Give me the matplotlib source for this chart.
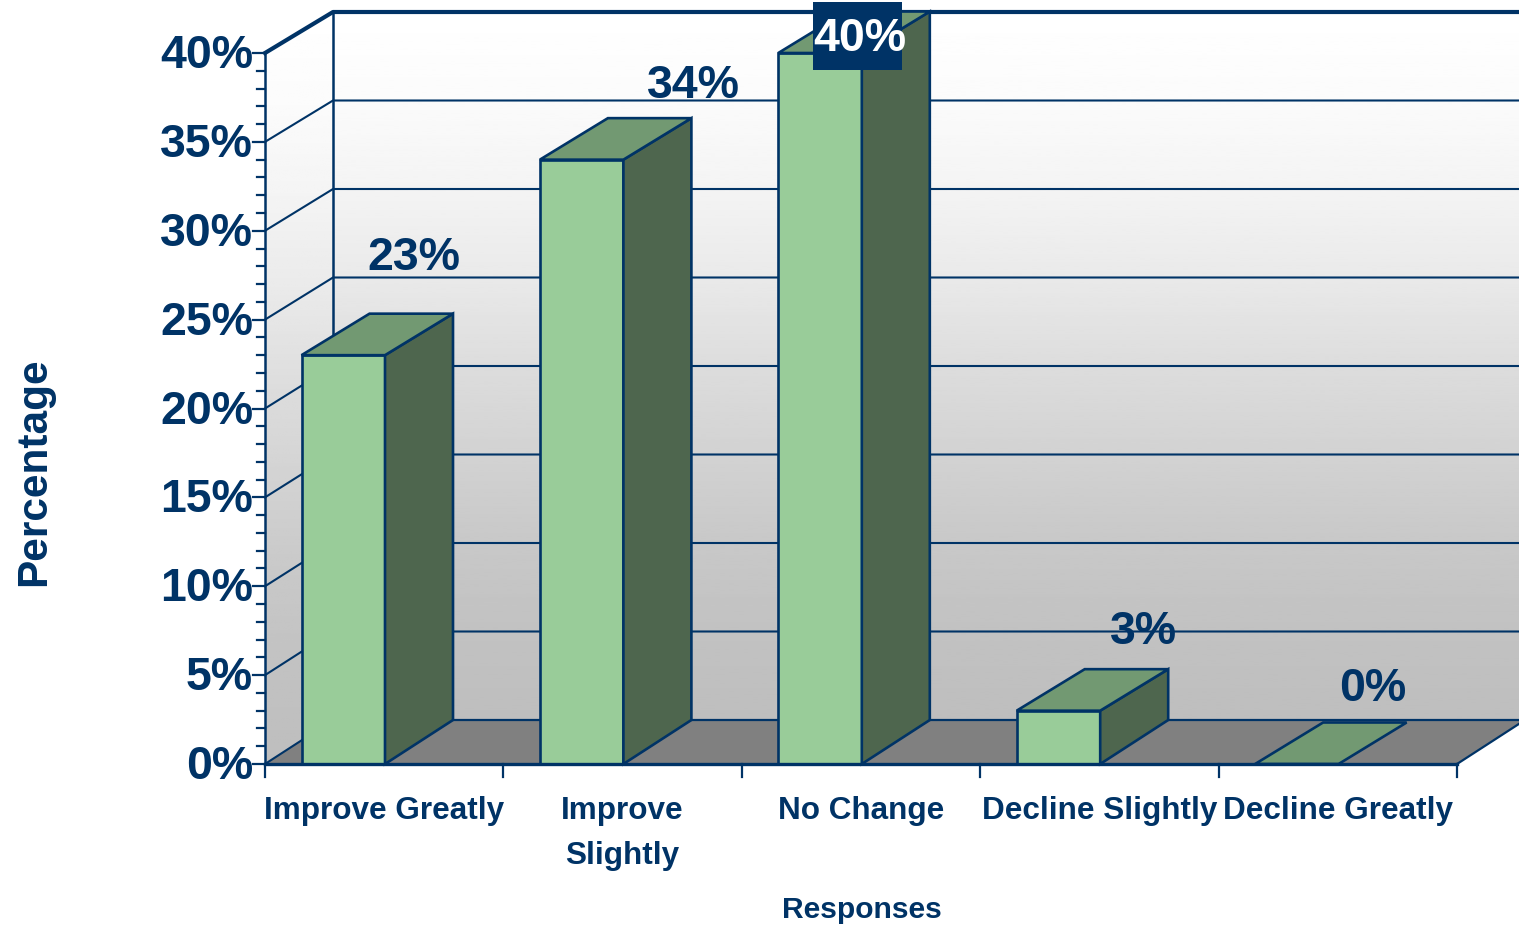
# plot.py
import numpy as np
import matplotlib
matplotlib.use("Agg")
import matplotlib.pyplot as plt
from matplotlib.patches import Polygon, Rectangle

plt.rcParams["font.family"] = ["Liberation Sans", "DejaVu Sans"]

categories = ["Improve Greatly", "Improve\nSlightly", "No Change", "Decline Slightly", "Decline Greatly"]
values = [23, 34, 40, 3, 0]
value_labels = ["23%", "34%", "40%", "3%", "0%"]
y_ticks = [0, 5, 10, 15, 20, 25, 30, 35, 40]

# label offset from the bar's front top centre, in pixels
label_dx = [71, 112, 40, 85, 76]
label_dy = [100, 77, 17, 82, 78]

NAVY = "#003366"
FRONT = "#99CC99"
TOP = "#729972"
SIDE = "#4E664E"
FLOOR = "#808080"

W, H = 1519, 926
# one data unit: a category across, one percent up
PX_X = 238.4
PX_Y = 17.775
X0, Y0 = 265, 764
DX = 68 / PX_X   # 3d depth
DY = 41.5 / PX_Y
DY_FLOOR = 44 / PX_Y
BAR_W = 83.5 / PX_X
BAR_OFF = 36.5 / PX_X
TEXT_DROP = 3 / PX_Y  # big labels sit a bit lower than va=center gives

fig = plt.figure(figsize=(W / 100, H / 100), dpi=100)
ax = fig.add_axes([0, 0, 1, 1])
xlim = (-X0 / PX_X, (W - X0) / PX_X)
ylim = (-(H - Y0) / PX_Y, Y0 / PX_Y)
xmax = xlim[1] + 0.1
ytop = 40


def back(t):
    # back wall is a touch shorter than the front plane
    return t + DY_FLOOR - t / ytop * 3 / PX_Y


# wall gradient, back and left side
g_pos = [0, 0.12, 0.25, 0.375, 0.5, 0.625, 0.75, 0.875, 1.0]
g_val = [1.0, 0.985, 0.955, 0.915, 0.865, 0.825, 0.785, 0.76, 0.745]
grad = np.interp(np.linspace(0, 1, 256), g_pos, g_val).reshape(-1, 1)

im = ax.imshow(grad, cmap="gray", vmin=0, vmax=1, extent=[DX, xmax, back(0), back(ytop)], aspect="auto", zorder=1)
im2 = ax.imshow(grad, cmap="gray", vmin=0, vmax=1, extent=[0, DX, 0, back(ytop)], aspect="auto", zorder=1)
im2.set_clip_path(Polygon([(0, 0), (DX, back(0)), (DX, back(ytop)), (0, ytop)], transform=ax.transData))
ax.set_xlim(*xlim)
ax.set_ylim(*ylim)
ax.axis("off")

# floor
ax.add_patch(Polygon([(0, 0), (5, 0), (5 + DX, back(0)), (DX, back(0))], fc=FLOOR, ec="none", zorder=2))
ax.plot([DX, xmax], [back(0), back(0)], color=NAVY, lw=1.6, zorder=3)
ax.plot([5, 5 + DX], [0, back(0)], color=NAVY, lw=1.6, zorder=3)

# grid lines on both walls
for t in y_ticks[1:]:
    lw = 3.0 if t == ytop else 1.5
    ax.plot([0, DX, xmax], [t, back(t), back(t)], color=NAVY, lw=lw, zorder=3, solid_joinstyle="round")
ax.plot([0, DX], [0, back(0)], color=NAVY, lw=1.5, zorder=3)
ax.plot([DX, DX], [back(0), back(ytop)], color=NAVY, lw=1.8, zorder=3)

# bars
for i, v in enumerate(values):
    x1 = i + BAR_OFF
    x2 = x1 + BAR_W
    if v > 0:
        ax.add_patch(Polygon([(x1, 0), (x2, 0), (x2, v), (x1, v)], fc=FRONT, ec=NAVY, lw=1.9, zorder=4))
        ax.add_patch(Polygon([(x2, 0), (x2 + DX, back(0)), (x2 + DX, v + DY), (x2, v)], fc=SIDE, ec=NAVY, lw=1.9, zorder=4))
    ax.add_patch(Polygon([(x1, v), (x2, v), (x2 + DX, v + DY), (x1 + DX, v + DY)], fc=TOP, ec=NAVY, lw=1.9, zorder=4))

# axis lines and ticks
ax.plot([0, 5], [0, 0], color=NAVY, lw=2.4, zorder=5)
ax.plot([0, 0], [0, ytop], color=NAVY, lw=1.8, zorder=5)
for t in range(0, ytop + 1):
    tick_len = 12 if t % 5 == 0 else 8
    ax.plot([-tick_len / PX_X, 0], [t, t], color=NAVY, lw=1.6, zorder=5)
for i in range(6):
    ax.plot([i, i], [0, -13 / PX_Y], color=NAVY, lw=1.6, zorder=5)

# tick labels
for t in y_ticks:
    ax.text(-12 / PX_X, t - TEXT_DROP, f"{t}%", ha="right", va="center", fontsize=33.5, fontweight="bold",
            color=NAVY, zorder=6)

for i, c in enumerate(categories):
    ax.text(i + 0.5, -(796 - Y0) / PX_Y, c, ha="center", va="top", fontsize=22.7, fontweight="bold",
            color=NAVY, linespacing=1.65, zorder=6)

# value labels
for i, lab in enumerate(value_labels):
    tx = i + BAR_OFF + BAR_W / 2 + label_dx[i] / PX_X
    ty = values[i] + label_dy[i] / PX_Y
    if values[i] == ytop:
        # highest value sits on a navy box
        ax.add_patch(Rectangle((tx - 47 / PX_X, ty - 34 / PX_Y), 89 / PX_X, 68 / PX_Y, fc=NAVY, ec="none", zorder=6))
        ax.text(tx, ty - TEXT_DROP, lab, ha="center", va="center", fontsize=33.5, fontweight="bold", color="white", zorder=7)
    else:
        ax.text(tx, ty - TEXT_DROP, lab, ha="center", va="center", fontsize=33.5, fontweight="bold", color=NAVY, zorder=6)

ax.text(-(265 - 34) / PX_X, (764 - 472) / PX_Y, "Percentage", rotation=90, ha="center", va="center",
        fontsize=30.5, fontweight="bold", color=NAVY)
ax.text((862 - 265) / PX_X, -(910 - 764) / PX_Y, "Responses", ha="center", va="center",
        fontsize=21.6, fontweight="bold", color=NAVY)

fig.savefig("out.png", dpi=100)
